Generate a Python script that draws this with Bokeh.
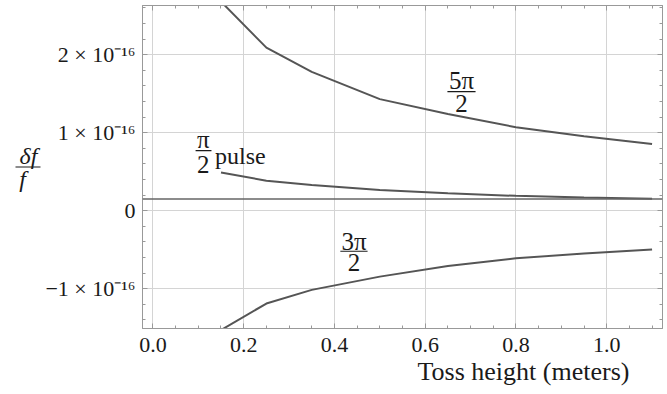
from bokeh.plotting import figure
from bokeh.layouts import row
from bokeh.models import (Label, Span, Arrow, LinearAxis, SingleIntervalTicker,
                          Range1d, NumeralTickFormatter, Title)
from bokeh.core.properties import value
from bokeh.embed import file_html
from bokeh.resources import INLINE

# ---- data (delta f / f in units of 1e-16) ----
toss_height = [0.15, 0.25, 0.35, 0.5, 0.65, 0.8, 0.95, 1.1]
five_pi_half = [2.68, 2.09, 1.78, 1.43, 1.24, 1.07, 0.955, 0.855]
pi_half_pulse = [0.49, 0.385, 0.33, 0.265, 0.222, 0.19, 0.17, 0.152]
three_pi_half = [-1.53, -1.19, -1.015, -0.845, -0.71, -0.61, -0.55, -0.496]
reference_level = 0.15

y_tick_labels = {-1: "\u22121 \u00d7 10\u207b\u00b9\u2076", 0: "0",
                 1: "1 \u00d7 10\u207b\u00b9\u2076", 2: "2 \u00d7 10\u207b\u00b9\u2076"}

SERIF = "Liberation Serif"
TXT = "#1a1a1a"
LINE = "#555555"
FRAME = "#999999"

# ---- small left panel holding the delta f / f label ----
side = figure(width=42, height=394, x_range=Range1d(0, 42), y_range=Range1d(394, 0),
              output_backend="svg", toolbar_location=None, min_border=0)
side.axis.visible = False
side.grid.visible = False
side.outline_line_color = None
side.text(x=[28], y=[184], text=["\u03b4f"], text_font=value(SERIF),
          text_font_style="italic", text_font_size=value("24px"), text_color=TXT,
          text_align="center", text_baseline="middle")
side.segment(x0=[15], y0=[197], x1=[40], y1=[197], line_color=TXT, line_width=1.2)
side.text(x=[22], y=[212], text=["f"], text_font=value(SERIF),
          text_font_style="italic", text_font_size=value("24px"), text_color=TXT,
          text_align="center", text_baseline="middle")

# ---- main plot ----
p = figure(width=625, height=394, x_range=Range1d(-0.023, 1.123),
           y_range=Range1d(-1.51, 2.63), output_backend="svg",
           toolbar_location=None, min_border_left=97, min_border_right=5,
           min_border_top=5, min_border_bottom=66)
p.outline_line_color = FRAME

xt = SingleIntervalTicker(interval=0.2, num_minor_ticks=4)
yt = SingleIntervalTicker(interval=1, num_minor_ticks=5)
p.xaxis.ticker = xt
p.yaxis.ticker = yt
p.xgrid.ticker = xt
p.ygrid.ticker = yt
p.grid.grid_line_color = "#d4d4d4"
p.grid.grid_line_width = 1
p.xaxis.formatter = NumeralTickFormatter(format="0.0")
p.yaxis.major_label_overrides = y_tick_labels

for ax in (p.xaxis[0], p.yaxis[0]):
    ax.axis_line_color = FRAME
    ax.major_tick_line_color = FRAME
    ax.minor_tick_line_color = FRAME
    ax.major_tick_in = 5
    ax.major_tick_out = 0
    ax.minor_tick_in = 3
    ax.minor_tick_out = 0
    ax.major_label_text_font = SERIF
    ax.major_label_text_font_size = "22px"
    ax.major_label_text_color = TXT
p.xaxis.major_label_standoff = 9
p.yaxis.major_label_standoff = 7

for loc, tk in (("above", xt), ("right", yt)):
    ax = LinearAxis(ticker=tk, axis_line_color=FRAME, major_tick_line_color=FRAME,
                    minor_tick_line_color=FRAME, major_tick_in=5, major_tick_out=0,
                    minor_tick_in=3, minor_tick_out=0, major_label_text_color=None,
                    major_label_text_font_size="1px", major_label_standoff=0)
    p.add_layout(ax, loc)

p.add_layout(Title(text="Toss height (meters)", align="left", offset=275,
                   text_font=SERIF, text_font_size="26px", text_font_style="normal",
                   text_color=TXT, standoff=0), "below")

p.add_layout(Span(location=reference_level, dimension="width",
                  line_color="#666666", line_width=1.3))

for ys in (five_pi_half, pi_half_pulse, three_pi_half):
    p.line(toss_height, ys, line_color=LINE, line_width=2)

def lab(x, y, t, size="25px", align="center", base="middle"):
    p.add_layout(Label(x=x, y=y, text=t, text_font=SERIF, text_font_size=size,
                       text_align=align, text_baseline=base, text_color=TXT))

def bar(x0, x1, y):
    p.add_layout(Arrow(end=None, x_start=x0, x_end=x1, y_start=y, y_end=y,
                       line_color=TXT, line_width=1.2))

# 5pi/2
lab(0.680, 1.667, "5\u03c0")
bar(0.649, 0.711, 1.526)
lab(0.680, 1.378, "2")
# pi/2 pulse
lab(0.111, 0.91, "\u03c0")
bar(0.094, 0.129, 0.769)
lab(0.111, 0.59, "2")
lab(0.137, 0.705, "pulse", size="24px", align="left", base="alphabetic")
# 3pi/2
lab(0.443, -0.391, "3\u03c0")
bar(0.413, 0.473, -0.52)
lab(0.443, -0.667, "2")

open("out.html", "w").write(file_html(row(side, p, spacing=0), INLINE))
